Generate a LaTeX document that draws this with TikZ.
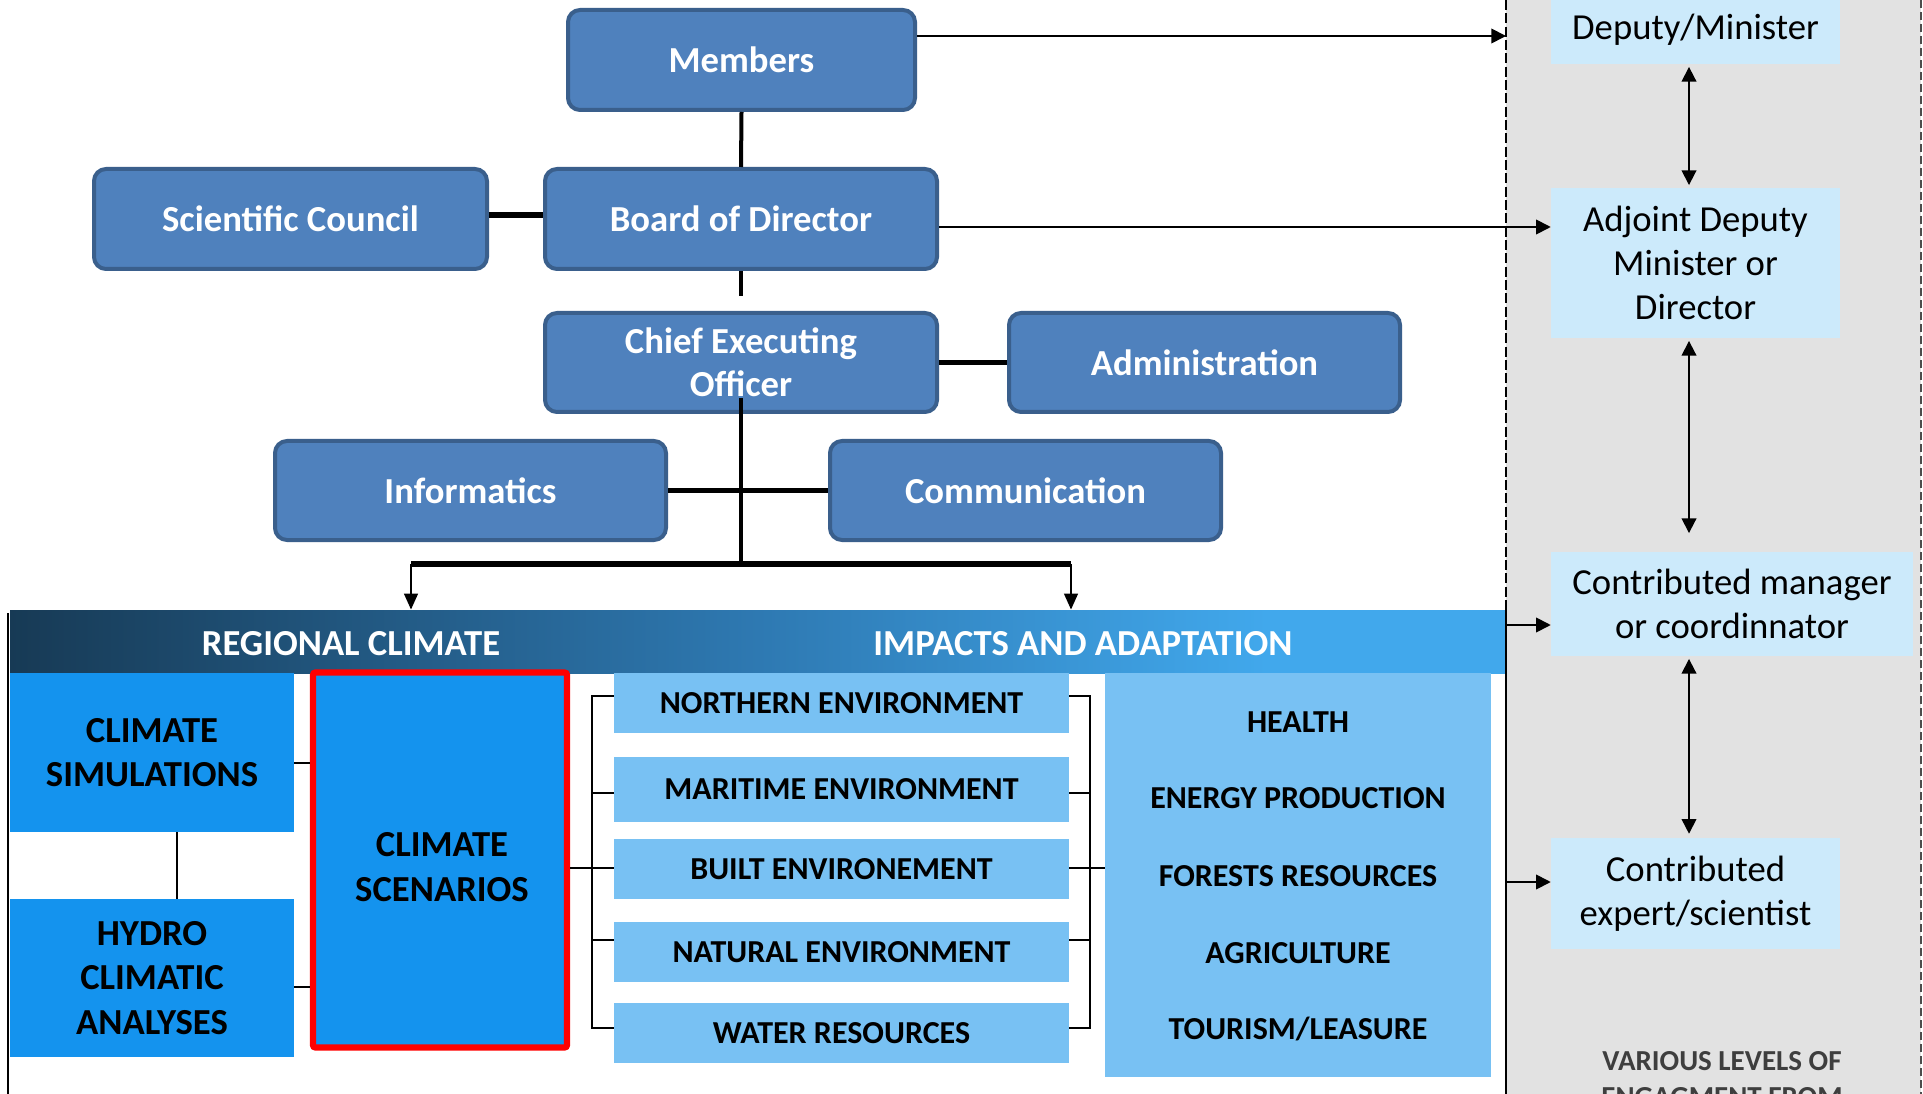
\documentclass[tikz,border=0pt]{standalone}
\usepackage{fontspec}
\setmainfont{Carlito}
\usetikzlibrary{arrows.meta}
\definecolor{topfill}{HTML}{4F81BD}
\definecolor{topdraw}{HTML}{3A5F8C}
\definecolor{paleblue}{HTML}{CCEAFB}
\definecolor{grayarea}{HTML}{E2E2E2}
\definecolor{brightblue}{HTML}{1493EE}
\definecolor{listblue}{HTML}{78C1F3}
\definecolor{hdrA}{HTML}{173A55}
\definecolor{hdrB}{HTML}{2E79B2}
\definecolor{hdrC}{HTML}{41A8EC}
\definecolor{grtext}{HTML}{3E3E3E}
\pgfdeclarehorizontalshading{hdrshade}{100bp}{color(0bp)=(hdrA); color(25bp)=(hdrA); color(50bp)=(hdrB); color(67bp)=(hdrC); color(100bp)=(hdrC)}
\begin{document}
\begin{tikzpicture}[x=0.75pt,y=-0.75pt,
  sz/.style 2 args={minimum width=#1*0.75pt, minimum height=#2*0.75pt},
  topbox/.style={draw=topdraw, line width=3pt, fill=topfill, rounded corners=9pt, inner sep=0pt, text=white, font=\bfseries\fontsize{27.5}{32.5}\selectfont, align=center},
  palebox/.style={fill=paleblue, inner sep=0pt, font=\fontsize{27.5}{33}\selectfont, align=center},
  bluebox/.style={fill=brightblue, inner sep=0pt, font=\bfseries\fontsize{27.5}{33.5}\selectfont, align=center},
  listbox/.style={fill=listblue, inner sep=0pt, font=\bfseries\fontsize{24}{28}\selectfont, align=center},
  listtext/.style={inner sep=0pt, font=\bfseries\fontsize{24}{28}\selectfont},
  hdrtext/.style={inner sep=0pt, text=white, font=\bfseries\fontsize{27.5}{32}\selectfont},
  conthick/.style={line width=4pt},
  conmid/.style={line width=3pt},
  conthin/.style={line width=1.6pt},
  arr/.style={line width=1.3pt, -{Triangle[length=11pt,width=11pt]}},
  dblarr/.style={line width=1.3pt, {Triangle[length=11pt,width=11pt]}-{Triangle[length=11pt,width=11pt]}},
  downarr/.style={line width=2.2pt, -{Triangle[length=12pt,width=10pt]}},
]
\useasboundingbox (0,0) rectangle (1923,1094);
\clip (0,0) rectangle (1923,1094);
\fill[white] (0,0) rectangle (1923,1094);
% gray engagement area
\fill[grayarea] (1506,-5) rectangle (1921,1100);
\draw[line width=1.5pt, dash pattern=on 7.5pt off 2.5pt] (1506,0) -- (1506,608);
\draw[line width=0.8pt, black!70, dash pattern=on 6pt off 3pt] (1921,0) -- (1921,1100);
\coordinate (dashx) at (1506,0);
\coordinate (ax) at (1689,0);

% top organisation boxes
\node[topbox, sz={347}{100}] (mem) at (741.5,60) {Members};
\node[topbox, sz={393}{100}] (sci) at (290.5,219) {Scientific Council};
\node[topbox, sz={392}{100}] (bod) at (741,219) {Board of Director};
\node[topbox, sz={392}{99}] (ceo) at (741,362.5) {Chief Executing\\Officer};
\node[topbox, sz={391}{99}] (adm) at (1204.5,362.5) {Administration};
\node[topbox, sz={391}{99}] (inf) at (470.5,490.5) {Informatics};
\node[topbox, sz={391}{99}] (com) at (1025.5,490.5) {Communication};

% right side levels
\node[palebox, sz={289}{68}] (dep) at (1695.5,30) {Deputy/Minister};
\node[palebox, sz={289}{150}] (adj) at (1695.5,263) {Adjoint Deputy\\Minister or\\Director};
\node[palebox, sz={362}{104}] (cm) at (1732,604) {Contributed manager\\or coordinnator};
\node[palebox, sz={289}{111}] (exp) at (1695.5,893.5) {Contributed\\expert/scientist};
\node[inner sep=0pt, text=grtext, font=\bfseries\fontsize{21.75}{26.5}\selectfont, align=center] (var) at (1722,1079) {VARIOUS LEVELS OF\\ENGAGMENT FROM};

% bottom section
\node[shading=hdrshade, inner sep=0pt, sz={1496}{63}] (hdr) at (758,641.5) {};
\node[hdrtext] (rc) at (351,644) {REGIONAL CLIMATE};
\node[hdrtext] (ia) at (1083,644) {IMPACTS AND ADAPTATION};
\draw[line width=1.5pt] (8,613) -- (8,1100);
\draw[line width=1.5pt] (1506,607) -- (1506,1100);

\node[bluebox, sz={284}{159}] (sim) at (152,752.5) {CLIMATE\\SIMULATIONS};
\node[bluebox, sz={284}{158}] (hyd) at (152,978) {HYDRO\\CLIMATIC\\ANALYSES};
\node[fill=brightblue, draw=red, line width=4.8pt, rounded corners=2pt, inner sep=0pt, sz={254}{375}] (scen) at (440,860) {};
\node[inner sep=0pt, font=\bfseries\fontsize{27.5}{33.5}\selectfont, align=center] (scent) at (442,867) {CLIMATE\\SCENARIOS};

\node[listbox, sz={455}{60}] (n1) at (841.5,703) {NORTHERN ENVIRONMENT};
\node[listbox, sz={455}{65}] (n2) at (841.5,789.5) {MARITIME ENVIRONMENT};
\node[listbox, sz={455}{60}] (n3) at (841.5,869) {BUILT ENVIRONEMENT};
\node[listbox, sz={455}{60}] (n4) at (841.5,952) {NATURAL ENVIRONMENT};
\node[listbox, sz={455}{60}] (n5) at (841.5,1033) {WATER RESOURCES};

\node[fill=listblue, inner sep=0pt, sz={386}{404}] (big) at (1298,875) {};
\node[listtext] (s1) at (1298,722) {HEALTH};
\node[listtext] (s2) at (1298,798) {ENERGY PRODUCTION};
\node[listtext] (s3) at (1298,876) {FORESTS RESOURCES};
\node[listtext] (s4) at (1298,953) {AGRICULTURE};
\node[listtext] (s5) at (1298,1029) {TOURISM/LEASURE};

% connectors, top
\draw[conmid] (mem.south) -- (bod.north);
\draw[conmid] (bod.south) -- ++(0,25);
\draw[conthick] (sci.east |- 0,215) -- (bod.west |- 0,215);
\draw[conthick] (ceo) -- (adm);
\coordinate (split) at (741,564);
\draw[conmid] (ceo.center |- 0,398) -- (split);
\draw[conthick] (inf) -- (com);
\coordinate (da) at (411,564);
\coordinate (db) at (1071,564);
\draw[conthick] (da) -- (db);
\draw[downarr] (da) -- (da |- hdr.north);
\draw[downarr] (db) -- (db |- hdr.north);

% connectors, right
\draw[arr] (mem.east |- 0,36) -- (dashx |- 0,36);
\draw[arr] (bod.east |- 0,227) -- (adj.west |- 0,227);
\draw[arr] (hdr.east |- 0,625) -- (cm.west |- 0,625);
\draw[arr] (hdr.east |- 0,882) -- (exp.west |- 0,882);
\draw[dblarr, shorten <=2pt, shorten >=2pt] (dep.south -| ax) -- (adj.north -| ax);
\draw[dblarr, shorten <=2pt, shorten >=14pt] (adj.south -| ax) -- (cm.north -| ax);
\draw[dblarr, shorten <=2pt, shorten >=3pt] (cm.south -| ax) -- (exp.north -| ax);

% connectors, bottom
\draw[conthin] (sim.east |- 0,763) -- (scen.west |- 0,763);
\draw[conthin] (hyd.east |- 0,987) -- (scen.west |- 0,987);
\draw[conthin] (sim.south -| 177,0) -- (hyd.north -| 177,0);
\coordinate (bl) at (592,0);
\coordinate (br) at (1090,0);
\draw[conthin] (n1.west |- 0,696) -- (bl |- 0,696) -- (bl |- 0,1028) -- (n5.west |- 0,1028);
\draw[conthin] (bl |- 0,793) -- (n2.west |- 0,793);
\draw[conthin] (bl |- 0,940) -- (n4.west |- 0,940);
\draw[conthin] (scen.east |- 0,868) -- (n3.west |- 0,868);
\draw[conthin] (n1.east |- 0,696) -- (br |- 0,696) -- (br |- 0,1028) -- (n5.east |- 0,1028);
\draw[conthin] (n2.east |- 0,793) -- (br |- 0,793);
\draw[conthin] (n4.east |- 0,940) -- (br |- 0,940);
\draw[conthin] (n3.east |- 0,868) -- (big.west |- 0,868);
\end{tikzpicture}
\end{document}
